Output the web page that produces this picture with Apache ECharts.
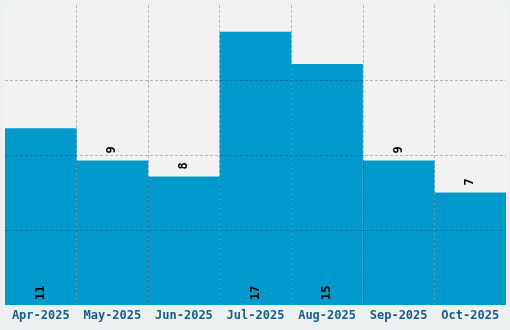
<!DOCTYPE html>
<html><head><meta charset="utf-8">
<script src="https://cdn.jsdelivr.net/npm/echarts@6/dist/echarts.min.js"></script>
<style>html,body{margin:0;padding:0;background:#ecf0f1;}#c{width:510px;height:330px;}</style>
</head><body><div id="c"></div>
<script>
const categories = ["Apr-2025","May-2025","Jun-2025","Jul-2025","Aug-2025","Sep-2025","Oct-2025"];
const values = [11, 9, 8, 17, 15, 9, 7];
const insideLabel = [true, false, false, true, true, false, false];

const yMax = 18.67;
const chart = echarts.init(document.getElementById('c'));
chart.setOption({
  backgroundColor: '#ecf0f1',
  animation: false,
  grid: {left: 5, right: 4, top: 5, bottom: 25, show: true, backgroundColor: '#f1f1f1', borderWidth: 0},
  xAxis: {
    type: 'category', data: categories, z: 5,
    axisLine: {show: false}, axisTick: {show: false},
    axisLabel: {interval: 0, color: '#1b5c8a', fontFamily: 'DejaVu Sans Mono', fontWeight: 'bold', fontSize: 12, margin: 5},
    splitLine: {show: true, interval: 0, showMinLine: false, showMaxLine: false, lineStyle: {color: 'rgba(0,0,0,0.24)', type: [3,2], width: 1}}
  },
  yAxis: {
    type: 'value', min: 0, max: yMax, interval: yMax/4, z: 5,
    axisLine: {show: false}, axisTick: {show: false}, axisLabel: {show: false},
    splitLine: {show: true, showMinLine: false, showMaxLine: false, lineStyle: {color: 'rgba(0,0,0,0.24)', type: [3,2], width: 1}}
  },
  series: [{
    type: 'bar', barCategoryGap: 0,
    itemStyle: {color: '#0099cc', borderWidth: 0},
    data: values.map((v, i) => ({
      value: v,
      label: {
        show: true, rotate: 90, align: 'left', verticalAlign: 'middle',
        position: insideLabel[i] ? 'insideBottom' : 'top',
        distance: insideLabel[i] ? 5 : 7,
        color: '#000', fontFamily: 'DejaVu Sans Mono', fontWeight: 'bold', fontSize: 12
      }
    }))
  }]
});
</script></body></html>
